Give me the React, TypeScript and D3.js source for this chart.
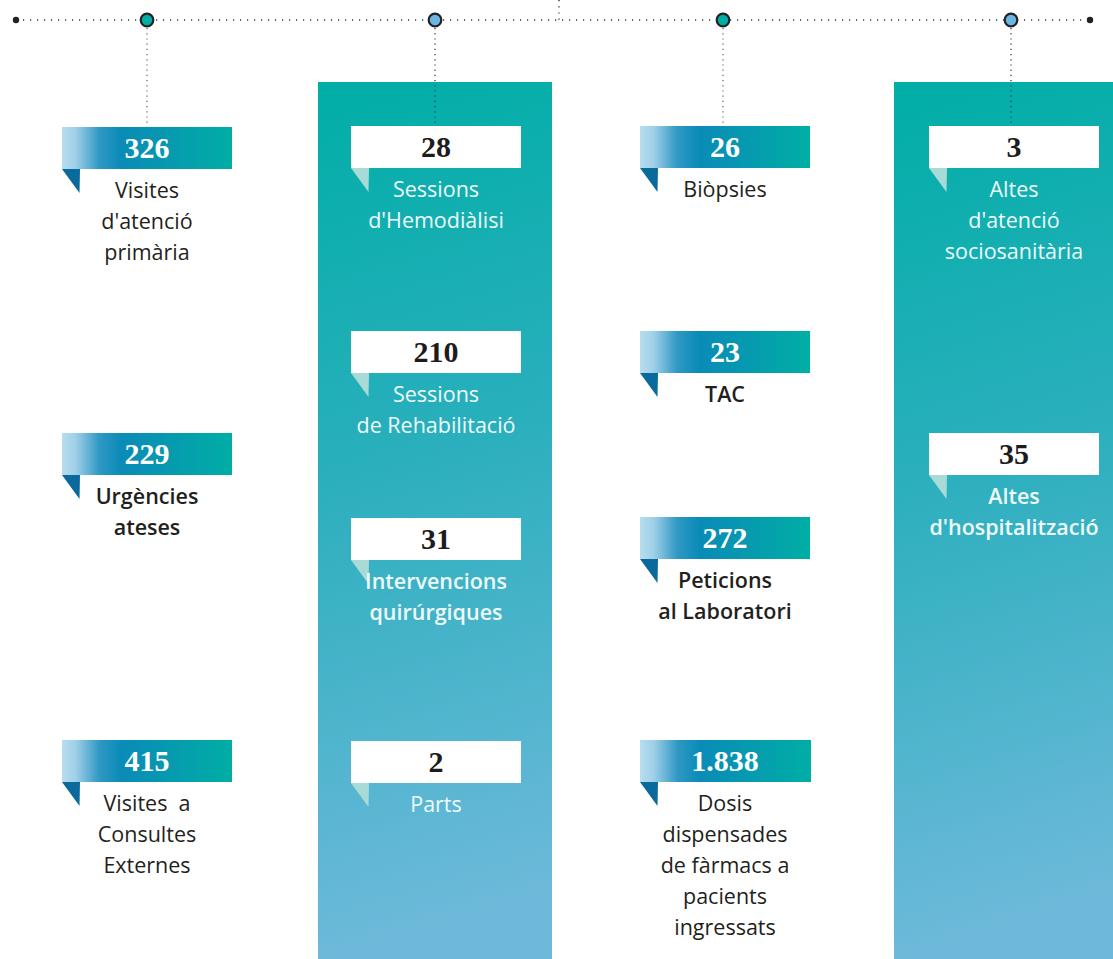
import { useLayoutEffect, useRef } from "react";
import * as d3 from "d3";

// four columns, left to right
const columnKinds = ["ribbon", "box", "ribbon", "box"];
const nodeColors = ["#00aea6", "#6db5e1", "#00aea6", "#6db5e1"];

const values = [
    ["326", "229", "415"],
    ["28", "210", "31", "2"],
    ["26", "23", "272", "1.838"],
    ["3", "35"],
];

const labels = [
    [["Visites", "d'atenció", "primària"], ["Urgències", "ateses"], ["Visites  a", "Consultes", "Externes"]],
    [["Sessions", "d'Hemodiàlisi"], ["Sessions", "de Rehabilitació"], ["Intervencions", "quirúrgiques"], ["Parts"]],
    [["Biòpsies"], ["TAC"], ["Peticions", "al Laboratori"], ["Dosis", "dispensades", "de fàrmacs a", "pacients", "ingressats"]],
    [["Altes", "d'atenció", "sociosanitària"], ["Altes", "d'hospitalització"]],
];

const boldLabels = [
    [false, true, false],
    [false, false, true, false],
    [false, true, true, false],
    [false, true],
];

// top of each value box, per column
const rowTops = [
    [127, 433, 740],
    [126, 331, 518, 741],
    [126, 331, 517, 740],
    [126, 433],
];

const W = 1113;
const H = 959;

function App() {
    const svgRef = useRef<SVGSVGElement | null>(null);
    useLayoutEffect(() => {
        const svg = svgRef.current!;
        draw(svg);
        return () => { svg.innerHTML = ""; };
    }, []);
    return (
        <div style={{ position: "absolute", left: 0, top: 0, width: W, height: H, overflow: "hidden", background: "#fff" }}>
            <svg ref={svgRef}></svg>
        </div>
    );
}

function draw(el: SVGSVGElement) {
    const root = d3.select(el).attr("width", W).attr("height", H);
    const x = d3.scalePoint<number>().domain(d3.range(4)).range([147, 1011]);
    const boxLeft = d3.scalePoint<number>().domain(d3.range(4)).range([62, 929]);
    const boxW = 170, boxH = 42, lineY = 20;

    const defs = root.append("defs");
    const colGrad = defs.append("linearGradient").attr("id", "colGrad")
        .attr("x1", 0).attr("y1", 0).attr("x2", 0.08).attr("y2", 1);
    colGrad.append("stop").attr("offset", "0%").attr("stop-color", "#00aea6");
    colGrad.append("stop").attr("offset", "45%").attr("stop-color", "#2aafbd");
    colGrad.append("stop").attr("offset", "100%").attr("stop-color", "#6eb9db");

    const ribGrad = defs.append("linearGradient").attr("id", "ribGrad")
        .attr("x1", 0).attr("y1", 0).attr("x2", 1).attr("y2", 0);
    ribGrad.append("stop").attr("offset", "0%").attr("stop-color", "#b8ddef");
    ribGrad.append("stop").attr("offset", "8%").attr("stop-color", "#9fd0e8");
    ribGrad.append("stop").attr("offset", "22%").attr("stop-color", "#2f98c4");
    ribGrad.append("stop").attr("offset", "35%").attr("stop-color", "#0a8bb7");
    ribGrad.append("stop").attr("offset", "100%").attr("stop-color", "#00aea5");

    // teal columns
    const colX = [318, 894];
    root.selectAll("rect.col")
        .data(columnKinds.map((k, i) => ({ k, i })).filter(d => d.k === "box"))
        .enter().append("rect")
        .attr("class", "col")
        .attr("x", (d, j) => colX[j])
        .attr("y", 82)
        .attr("width", (d, j) => (j === 0 ? 234 : W - colX[j]))
        .attr("height", H - 82)
        .attr("fill", "url(#colGrad)");

    // timeline
    root.append("line").attr("x1", 16).attr("x2", 1090).attr("y1", lineY).attr("y2", lineY)
        .attr("stroke", "#3a3a3a").attr("stroke-width", 1.4).attr("stroke-dasharray", "1.2 5.8");
    root.append("line").attr("x1", 559).attr("x2", 559).attr("y1", 0).attr("y2", lineY)
        .attr("stroke", "#3a3a3a").attr("stroke-width", 1.4).attr("stroke-dasharray", "1.2 5");
    root.selectAll("circle.end").data([16, 1090]).enter().append("circle")
        .attr("cx", d => d).attr("cy", lineY).attr("r", 3.2).attr("fill", "#222");

    // drop lines
    root.selectAll("line.drop").data(d3.range(4)).enter().append("line")
        .attr("x1", d => x(d)!).attr("x2", d => x(d)!)
        .attr("y1", lineY + 8).attr("y2", d => rowTops[d][0])
        .attr("stroke", (d) => (columnKinds[d] === "box" ? "#2b3d4a" : "#6a6a80"))
        .attr("stroke-width", 1.3).attr("stroke-dasharray", "1.2 4");

    root.selectAll("circle.node").data(d3.range(4)).enter().append("circle")
        .attr("cx", d => x(d)!).attr("cy", lineY).attr("r", 6.3)
        .attr("fill", d => nodeColors[d]).attr("stroke", "#222").attr("stroke-width", 2.2);

    // value boxes
    d3.range(4).forEach(c => {
        const ribbon = columnKinds[c] === "ribbon";
        const x0 = boxLeft(c)!;
        values[c].forEach((v, r) => {
            const top = rowTops[c][r];
            const g = root.append("g");
            g.append("path")
                .attr("d", `M${x0},${top + boxH} L${x0 + 18},${top + boxH} L${x0 + 17.5},${top + boxH + 24} Z`)
                .attr("fill", ribbon ? "#0b6a9c" : "#a8dbd7");
            g.append("rect").attr("x", x0).attr("y", top)
                .attr("width", boxW + (v.length > 3 ? 1 : 0)).attr("height", boxH)
                .attr("fill", ribbon ? "url(#ribGrad)" : "#fff");
            g.append("text").attr("x", x0 + boxW / 2).attr("y", top + boxH / 2 + 10)
                .attr("text-anchor", "middle")
                .attr("font-family", "'Liberation Serif', 'DejaVu Serif', serif")
                .attr("font-weight", "bold").attr("font-size", 30)
                .attr("fill", ribbon ? "#fff" : "#1e1b1c")
                .text(v);
            g.append("text")
                .attr("text-anchor", "middle")
                .attr("font-family", "'Open Sans', 'Noto Sans', sans-serif")
                .attr("font-size", 21.5)
                .attr("font-weight", boldLabels[c][r] ? 600 : 400)
                .attr("fill", ribbon ? "#231f20" : "#eef9f9")
                .selectAll("tspan").data(labels[c][r]).enter().append("tspan")
                .attr("x", x0 + boxW / 2)
                .attr("y", (d, i) => top + 71 + i * 31)
                .attr("xml:space", "preserve")
                .style("white-space", "pre")
                .text(d => d);
        });
    });
}

export default App;
